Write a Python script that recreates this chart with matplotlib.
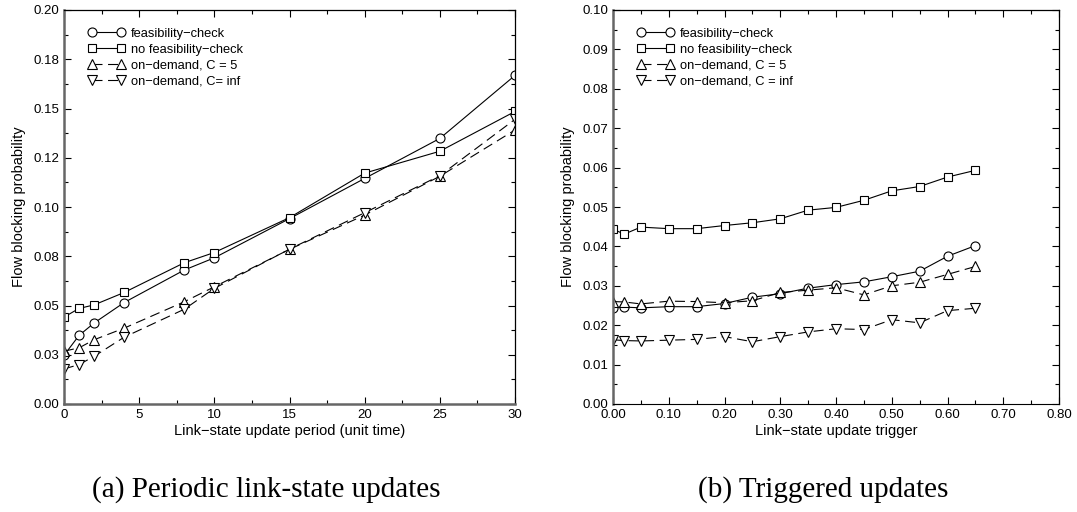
import matplotlib
matplotlib.use('Agg')
import matplotlib.pyplot as plt
from matplotlib.ticker import FixedLocator, MultipleLocator

plt.rcParams['font.family'] = ['Liberation Sans', 'DejaVu Sans']

# (a) periodic updates
period = [0, 1, 2, 4, 8, 10, 15, 20, 25, 30]
a_feas = [0.0247, 0.0348, 0.0411, 0.0515, 0.0680, 0.0742, 0.0941, 0.1145, 0.1348, 0.1668]
a_nofeas = [0.0441, 0.0485, 0.0503, 0.0566, 0.0717, 0.0769, 0.0946, 0.1172, 0.1283, 0.1485]
a_od5 = [0.0268, 0.0285, 0.0326, 0.0385, 0.0519, 0.0595, 0.0785, 0.0959, 0.1156, 0.1391]
a_odinf = [0.0178, 0.0200, 0.0242, 0.0339, 0.0481, 0.0587, 0.0786, 0.0971, 0.1159, 0.1445]
a_yticks = [0.0, 0.025, 0.05, 0.075, 0.1, 0.125, 0.15, 0.175, 0.2]
a_ylabels = ['0.00', '0.03', '0.05', '0.08', '0.10', '0.12', '0.15', '0.18', '0.20']

# (b) triggered updates
trigger = [0.0, 0.02, 0.05, 0.10, 0.15, 0.20, 0.25, 0.30, 0.35, 0.40, 0.45, 0.50, 0.55, 0.60, 0.65]
b_feas = [0.0244, 0.0246, 0.0244, 0.0247, 0.0247, 0.0255, 0.0271, 0.0280, 0.0294, 0.0303,
          0.0310, 0.0323, 0.0337, 0.0375, 0.0402]
b_nofeas = [0.0444, 0.0431, 0.0449, 0.0445, 0.0445, 0.0453, 0.0460, 0.0470, 0.0492, 0.0499,
            0.0517, 0.0541, 0.0552, 0.0576, 0.0593]
b_od5 = [0.0260, 0.0259, 0.0254, 0.0261, 0.0260, 0.0257, 0.0262, 0.0283, 0.0289, 0.0295,
         0.0277, 0.0300, 0.0309, 0.0329, 0.0349]
b_odinf = [0.0163, 0.0161, 0.0160, 0.0162, 0.0164, 0.0171, 0.0158, 0.0171, 0.0183, 0.0191,
           0.0189, 0.0214, 0.0206, 0.0237, 0.0243]

labels = ['feasibility\u2212check', 'no feasibility\u2212check', 'on\u2212demand, C = 5']
labels_a = labels + ['on\u2212demand, C= inf']
labels_b = labels + ['on\u2212demand, C = inf']

styles = [
    dict(marker='o', linestyle='-', markersize=6.5),
    dict(marker='s', linestyle='-', markersize=5.2),
    dict(marker='^', linestyle=(0, (9, 5)), markersize=6.5),
    dict(marker='v', linestyle=(0, (9, 5)), markersize=6.5),
]

fig = plt.figure(figsize=(10.77, 5.12), dpi=100)
ax1 = fig.add_axes([64 / 1077, 108 / 512, 451 / 1077, 394 / 512])
ax2 = fig.add_axes([613 / 1077, 108 / 512, 446 / 1077, 394 / 512])


def draw(ax, x, series, names):
    for y, st, name in zip(series, styles, names):
        ax.plot(x, y, color='black', lw=0.8, mfc='white', mec='black', mew=0.8,
                label=name, **st)
    ax.legend(loc='upper left', bbox_to_anchor=(0.037, 0.975), frameon=False,
              fontsize=9.3, numpoints=2, handlelength=2.8, handletextpad=0.5,
              labelspacing=0.3, borderaxespad=0.2)
    ax.tick_params(which='both', direction='in', top=True, right=True,
                   labelsize=9.5, width=0.8)
    ax.tick_params(which='major', length=5)
    ax.tick_params(which='minor', length=3)
    for s in ('top', 'right'):
        ax.spines[s].set_linewidth(0.9)
    ax.spines['left'].set_color('#666666')
    ax.spines['left'].set_linewidth(1.8)
    ax.set_ylabel('Flow blocking probability', fontsize=10.5, labelpad=5)


draw(ax1, period, [a_feas, a_nofeas, a_od5, a_odinf], labels_a)
ax1.set_xlim(0, 30)
ax1.set_ylim(0, 0.2)
ax1.xaxis.set_major_locator(MultipleLocator(5))
ax1.xaxis.set_minor_locator(MultipleLocator(2.5))
ax1.yaxis.set_major_locator(FixedLocator(a_yticks))
ax1.set_yticklabels(a_ylabels)
ax1.yaxis.set_minor_locator(MultipleLocator(0.0125))
ax1.spines['bottom'].set_color('#666666')
ax1.spines['bottom'].set_linewidth(1.8)
ax1.set_xlabel('Link\u2212state update period (unit time)', fontsize=10.5, labelpad=2)

draw(ax2, trigger, [b_feas, b_nofeas, b_od5, b_odinf], labels_b)
ax2.set_xlim(0, 0.8)
ax2.set_ylim(0, 0.1)
ax2.xaxis.set_major_locator(MultipleLocator(0.1))
ax2.xaxis.set_minor_locator(MultipleLocator(0.05))
ax2.yaxis.set_major_locator(MultipleLocator(0.01))
ax2.yaxis.set_minor_locator(MultipleLocator(0.005))
ax2.xaxis.set_major_formatter('{x:.2f}')
ax2.yaxis.set_major_formatter('{x:.2f}')
ax2.set_xlabel('Link\u2212state update trigger', fontsize=10.5, labelpad=2)

fig.text(266 / 1077, 1 - 490 / 512, '(a) Periodic link-state updates',
         family='Liberation Serif', fontsize=21, ha='center', va='center')
fig.text(823 / 1077, 1 - 490 / 512, '(b) Triggered updates',
         family='Liberation Serif', fontsize=21, ha='center', va='center')

fig.savefig('out.png', dpi=100)
